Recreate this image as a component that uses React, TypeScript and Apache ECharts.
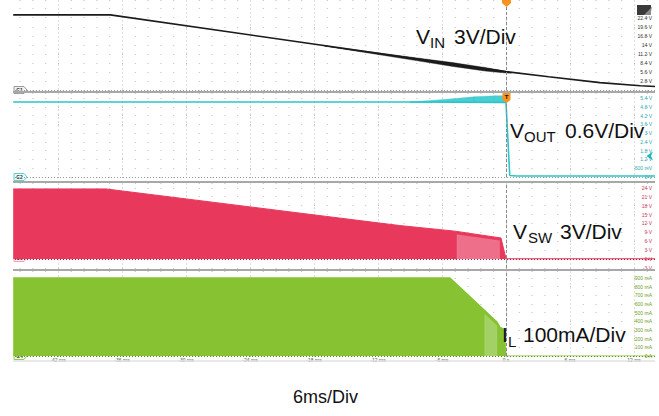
import React, { useEffect, useRef } from 'react';
import * as echarts from 'echarts';

// ---------------- data (time in ms) ----------------
const timeTickStep = 6; // 6 ms / div
const visibleTimeRange = [-46.2, 14];

// Panel 1 : V_IN (V)
const vinTime = [-46.2, -37.1, 0, 4, 8.8, 12.6, 14];
const vinVolts = [23.3, 23.3, 5.7, 4.1, 2.3, 1.3, 1.1];
const vinNoiseTime = [-17, -12, -8, -5, -2, -0.5, 0.5];
const vinNoiseLow = [13.6, 11.0, 8.9, 7.3, 5.9, 5.4, 5.2];
const vinNoiseHigh = [13.7, 11.5, 9.8, 8.5, 7.0, 6.1, 5.4];

// Panel 2 : V_OUT (V)
const voutTime = [-46.2, -8, 0, 0.35, 1, 14];
const voutVolts = [5.12, 5.12, 5.1, 0.1, 0.07, 0.07];
const voutRippleTime = [-9, -7, -5, -3, -1, -0.05];
const voutRippleLow = [5.08, 5.08, 5.08, 5.08, 5.08, 5.08];
const voutRippleHigh = [5.15, 5.22, 5.35, 5.48, 5.55, 5.55];

// Panel 3 : V_SW envelope (V)
const vswTime = [-46.2, -37.5, -10, -4.8, -0.47, 0, 14];
const vswVolts = [23.6, 23.6, 11.3, 9.4, 7.1, 0.1, 0.1];
const vswSparseTime = [-4.6, -0.6];
const vswSparseLow = [0, 0];
const vswSparseHigh = [8.2, 6.2];

// Panel 4 : I_L envelope (mA)
const ilTime = [-46.2, -5.25, -0.84, -0.55, -0.1, -0.05, 14];
const ilMilliamps = [900, 900, 392, 330, 305, 0, 0];
const ilSparseTime = [-2, -0.85];
const ilSparseLow = [0, 0];
const ilSparseHigh = [480, 350];

// vertical scales per panel
const vinAxis = { min: 0, max: 27.9, interval: 2.8 };
const voutAxis = { min: 0, max: 5.74, interval: 0.6 };
const vswAxis = { min: -3, max: 25.6, interval: 3 };
const ilAxis = { min: 0, max: 980, interval: 100 };

const FONT = '"Liberation Sans", Arial, sans-serif';
const BLACK = '#1b1b1b';
const CYAN = '#2cc5c9';
const RED = '#e8385c';
const GREEN = '#86c232';

const zip = (a: number[], b: number[]) => a.map((t, i) => [t, b[i]]);
const round = (v: number, d: number) => Math.round(v * Math.pow(10, d)) / Math.pow(10, d);

// band (filled region between two read envelopes) drawn as a custom series
function band(times: number[], low: number[], high: number[], axis: number, fill: string, opacity: number) {
  return {
    type: 'custom',
    xAxisIndex: axis,
    yAxisIndex: axis,
    z: 3,
    encode: { x: 0, y: [1, 2] },
    data: times.map((t, i) => [t, low[i], high[i]]),
    renderItem: (params: any, api: any) => {
      const i = params.dataIndex;
      if (i >= times.length - 1) return null;
      const pts = [
        api.coord([times[i], low[i]]),
        api.coord([times[i + 1], low[i + 1]]),
        api.coord([times[i + 1], high[i + 1]]),
        api.coord([times[i], high[i]]),
      ];
      return {
        type: 'polygon',
        shape: { points: pts },
        style: { fill, opacity, stroke: fill, lineWidth: 0.4 },
      };
    },
  };
}

export default function App() {
  const ref = useRef<HTMLDivElement>(null);

  useEffect(() => {
    if (!ref.current) return;
    const chart = echarts.init(ref.current, undefined, { renderer: 'svg' });

    const gridBase = { left: -6, width: 704, outerBoundsMode: 'none', containLabel: false };
    const grids = [
      { ...gridBase, top: 0, height: 90 },
      { ...gridBase, top: 93, height: 84 },
      { ...gridBase, top: 183, height: 85 },
      { ...gridBase, top: 271, height: 85 },
    ];

    const xAxes = grids.map((_, i) => ({
      type: 'value',
      gridIndex: i,
      min: -48,
      max: 18,
      interval: timeTickStep,
      axisLine: { show: false },
      axisTick: { show: false },
      axisLabel:
        i === 3
          ? {
              show: true,
              fontSize: 5,
              color: '#555',
              margin: 1,
              fontFamily: FONT,
              formatter: (v: number) =>
                v < visibleTimeRange[0] || v > visibleTimeRange[1] ? '' : v === 0 ? '0 s' : v + ' ms',
            }
          : { show: false },
      splitLine: { show: true, lineStyle: { color: '#dedede', type: [2, 2], width: 1 } },
    }));

    const dotGrid = { show: true, lineStyle: { color: '#bdbdbd', type: [1, 11.8], width: 1 } };

    const yAxes = [
      { ...vinAxis, color: '#333', fmt: (v: number) => (v === 0 ? '' : round(v, 1) + ' V') },
      {
        ...voutAxis,
        color: '#1fa9ae',
        fmt: (v: number) => (v === 0 ? '0 V' : v < 1 ? Math.round(v * 1000) + ' mV' : round(v, 1) + ' V'),
      },
      { ...vswAxis, color: '#c8385a', fmt: (v: number) => round(v, 1) + ' V' },
      { ...ilAxis, color: '#6f9e22', fmt: (v: number) => (v === 0 ? '0 A' : round(v, 0) + ' mA') },
    ].map((a, i) => ({
      type: 'value',
      gridIndex: i,
      min: a.min,
      max: a.max,
      interval: a.interval,
      position: 'right',
      offset: -45,
      axisLine: { show: false },
      axisTick: { show: false },
      axisLabel: {
        inside: true,
        fontSize: 5,
        margin: 1,
        color: a.color,
        fontFamily: FONT,
        showMaxLabel: false,
        formatter: a.fmt,
      },
      splitLine: dotGrid,
    }));

    const trigger = { xAxis: 0, lineStyle: { color: '#8a8a8a', type: [3, 2], width: 1 } };
    const ground = (color: string) => ({ yAxis: 0, lineStyle: { color, type: [1, 2], width: 1 } });
    const marks = (color: string) => ({
      silent: true,
      symbol: ['none', 'none'],
      label: { show: false },
      data: [trigger, ground(color)],
    });

    const series: any[] = [
      {
        type: 'line', xAxisIndex: 0, yAxisIndex: 0, symbol: 'none',
        data: zip(vinTime, vinVolts),
        lineStyle: { color: BLACK, width: 1.6 },
        markLine: marks('#9a9a9a'),
      },
      band(vinNoiseTime, vinNoiseLow, vinNoiseHigh, 0, BLACK, 1),
      {
        type: 'line', xAxisIndex: 1, yAxisIndex: 1, symbol: 'none',
        data: zip(voutTime, voutVolts),
        lineStyle: { color: CYAN, width: 1.6 },
        markLine: marks('#9a9a9a'),
      },
      band(voutRippleTime, voutRippleLow, voutRippleHigh, 1, CYAN, 0.85),
      {
        type: 'line', xAxisIndex: 2, yAxisIndex: 2, symbol: 'none',
        data: zip(vswTime, vswVolts),
        lineStyle: { color: RED, width: 1 },
        areaStyle: { color: RED, opacity: 1 },
        markLine: marks('#9e2340'),
      },
      band(vswSparseTime, vswSparseLow, vswSparseHigh, 2, '#ffffff', 0.28),
      {
        type: 'line', xAxisIndex: 3, yAxisIndex: 3, symbol: 'none',
        data: zip(ilTime, ilMilliamps),
        lineStyle: { color: GREEN, width: 1.2 },
        areaStyle: { color: GREEN, opacity: 1 },
        markLine: marks('#5f8f1c'),
      },
      band(ilSparseTime, ilSparseLow, ilSparseHigh, 3, '#ffffff', 0.25),
    ];

    const txt = (text: string, x: number, y: number, size: number) => ({
      type: 'text',
      x,
      y,
      z: 100,
      style: { text, fontSize: size, fontFamily: FONT, fill: '#111', verticalAlign: 'middle' },
    });

    const tag = (label: string, y: number, stroke: string, fill: string) => ({
      type: 'group',
      z: 90,
      children: [
        {
          type: 'polygon',
          shape: { points: [[14, y - 3.5], [24, y - 3.5], [27, y], [24, y + 3.5], [14, y + 3.5]] },
          style: { fill, stroke, lineWidth: 1 },
        },
        {
          type: 'text',
          x: 19.5,
          y,
          style: { text: label, fontSize: 5, fontWeight: 'bold', fontFamily: FONT, fill: '#333', align: 'center', verticalAlign: 'middle' },
        },
      ],
    });

    const sep = (y: number, color = '#a8a8a8', w = 2) => ({
      type: 'line', z: 80, shape: { x1: 13, y1: y, x2: 655, y2: y }, style: { stroke: color, lineWidth: w },
    });

    const graphic = [
      { type: 'rect', z: 70, shape: { x: 0, y: 0, width: 13, height: 416 }, style: { fill: '#fff' } },
      { type: 'rect', z: 70, shape: { x: 655, y: 0, width: 10, height: 416 }, style: { fill: '#fff' } },
      sep(92),
      sep(182),
      sep(270),
      sep(361, '#e2e2e2', 1.5),
      tag('C1', 90, '#9a9a9a', '#f2f2f2'),
      tag('C2', 177, '#5ccfd2', '#e9fbfb'),
      tag('C3', 258, '#f2a3b3', '#fff1f4'),
      tag('C4', 356, '#93c94e', '#f1f9e6'),
      {
        type: 'polygon', z: 95,
        shape: { points: [[502, 0], [511, 0], [511, 3], [506.5, 7], [502, 3]] },
        style: { fill: '#f7931e' },
      },
      {
        type: 'polygon', z: 95,
        shape: { points: [[502.5, 93], [510.5, 93], [510.5, 100], [506.5, 103], [502.5, 100]] },
        style: { fill: '#f7931e' },
      },
      {
        type: 'text', z: 96, x: 506.5, y: 96.8,
        style: { text: 'T', fontSize: 6, fontWeight: 'bold', fontFamily: FONT, fill: '#111', align: 'center', verticalAlign: 'middle' },
      },
      {
        type: 'polygon', z: 95,
        shape: { points: [[637, 5], [651, 5], [651, 15], [637, 15]] },
        style: { fill: '#3a3a3a' },
      },
      {
        type: 'polygon', z: 96,
        shape: { points: [[644, 15], [651, 8], [651, 15]] },
        style: { fill: '#8a8a8a' },
      },
      {
        type: 'polygon', z: 95,
        shape: { points: [[653, 151.5], [646.5, 156], [653, 160.5], [651, 156]] },
        style: { fill: '#26b6bb' },
      },
      txt('V', 416, 36.7, 21),
      txt('IN', 430, 42.8, 15),
      txt('3V/Div', 454, 36.7, 21),
      txt('V', 510, 130.7, 21),
      txt('OUT', 524, 136.8, 15),
      txt('0.6V/Div', 565, 130.7, 21),
      txt('V', 513, 231.7, 21),
      txt('SW', 528, 237.8, 15),
      txt('3V/Div', 560, 231.7, 21),
      txt('I', 502, 334.7, 21),
      txt('L', 508, 341.8, 15),
      txt('100mA/Div', 523, 334.7, 21),
      txt('6ms/Div', 293, 396.8, 18),
    ];

    chart.setOption({
      animation: false,
      backgroundColor: '#ffffff',
      grid: grids,
      xAxis: xAxes,
      yAxis: yAxes,
      series,
      graphic: { elements: graphic },
    });

    return () => chart.dispose();
  }, []);

  return (
    <div
      ref={ref}
      style={{ position: 'absolute', left: 0, top: 0, width: 659, height: 416, background: '#fff' }}
    />
  );
}
